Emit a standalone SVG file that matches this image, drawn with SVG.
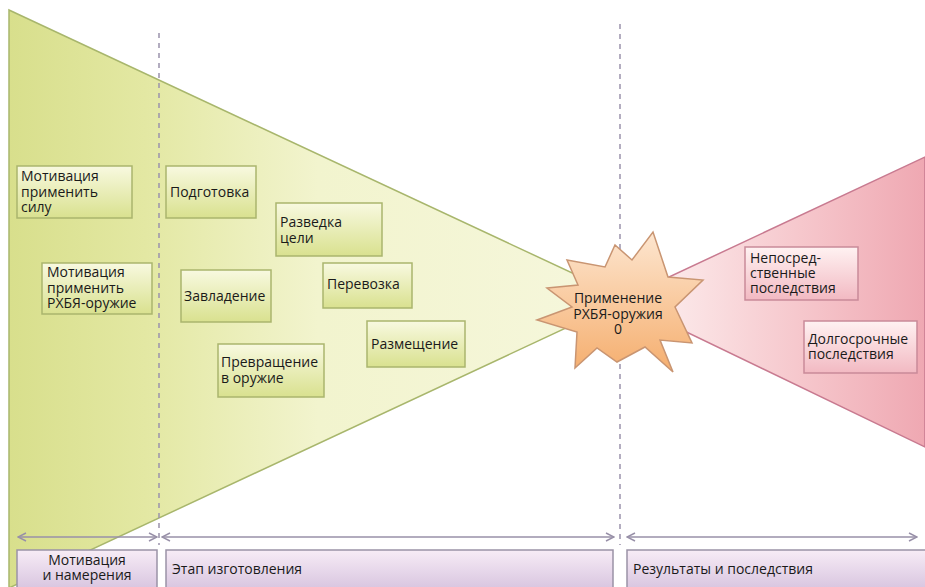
<svg xmlns="http://www.w3.org/2000/svg" width="925" height="587" viewBox="0 0 925 587">
<defs>
<linearGradient id="gTri" x1="9" y1="0" x2="628" y2="0" gradientUnits="userSpaceOnUse">
<stop offset="0" stop-color="#d8df8c"/>
<stop offset="0.22" stop-color="#e3e8a3"/>
<stop offset="0.5" stop-color="#f2f4ce"/>
<stop offset="1" stop-color="#f6f7dd"/>
</linearGradient>
<linearGradient id="pTri" x1="640" y1="0" x2="925" y2="0" gradientUnits="userSpaceOnUse">
<stop offset="0" stop-color="#fdf0f0"/>
<stop offset="0.55" stop-color="#f6c8cd"/>
<stop offset="1" stop-color="#efa8b2"/>
</linearGradient>
<linearGradient id="gBox" x1="0" y1="0" x2="0" y2="1">
<stop offset="0" stop-color="#f8f9e0"/>
<stop offset="1" stop-color="#d9e18f"/>
</linearGradient>
<linearGradient id="pBox" x1="0" y1="0" x2="0" y2="1">
<stop offset="0" stop-color="#fff2f2"/>
<stop offset="1" stop-color="#f2b9c2"/>
</linearGradient>
<linearGradient id="vBox" x1="0" y1="0" x2="0" y2="1">
<stop offset="0" stop-color="#f7ecf6"/>
<stop offset="1" stop-color="#d6c2de"/>
</linearGradient>
<linearGradient id="star" x1="0" y1="0" x2="0" y2="1">
<stop offset="0" stop-color="#fde6d0"/>
<stop offset="1" stop-color="#f5ae6e"/>
</linearGradient>
<marker id="ah" viewBox="0 0 10 10" refX="9" refY="5" markerWidth="10" markerHeight="10" markerUnits="userSpaceOnUse" orient="auto-start-reverse">
<path d="M1,1 L9,5 L1,9" fill="none" stroke="#9890a8" stroke-width="1.5"/>
</marker>
</defs>
<style>
text{font-family:"Open Sans","Noto Sans","Liberation Sans",sans-serif;font-size:14px;fill:#1a1a1a}
.gb{fill:url(#gBox);stroke:#aab56e;stroke-width:1.5}
.pb{fill:url(#pBox);stroke:#c98a99;stroke-width:1.5}
.vb{fill:url(#vBox);stroke:#9a92a6;stroke-width:1.5}
.dash{stroke:#9a92ac;stroke-width:1.5;stroke-dasharray:5 5;fill:none}
.arr{stroke:#9890a8;stroke-width:1.5;fill:none;marker-start:url(#ah);marker-end:url(#ah)}
</style>
<rect width="925" height="587" fill="#ffffff"/>
<g id="background">
<polygon points="9,10 628,299 9,588" fill="url(#gTri)" stroke="#a8b66c" stroke-width="1.5"/>
<polygon points="620,300 925,157 925,447" fill="url(#pTri)" stroke="#c87a90" stroke-width="1.5"/>
</g>
<g id="dividers">
<line class="dash" x1="159" y1="33" x2="159" y2="545"/>
<line class="dash" x1="620" y1="24" x2="620" y2="545"/>
</g>
<g id="connectors">
<line class="arr" x1="18" y1="537" x2="157" y2="537"/>
<line class="arr" x1="162" y1="537" x2="614" y2="537"/>
<line class="arr" x1="627" y1="537" x2="917" y2="537"/>
</g>
<g id="n-motiv-force">
<rect class="gb" x="17" y="166" width="115" height="52"/>
<text x="21" y="181"><tspan x="21">Мотивация</tspan><tspan x="21" dy="15.5">применить</tspan><tspan x="21" dy="15.5">силу</tspan></text>
</g>
<g id="n-motiv-cbrn">
<rect class="gb" x="42" y="263" width="110" height="51"/>
<text x="47" y="277"><tspan x="47">Мотивация</tspan><tspan x="47" dy="15.5">применить</tspan><tspan x="47" dy="15.5">РХБЯ-оружие</tspan></text>
</g>
<g id="n-prep">
<rect class="gb" x="166" y="166" width="90" height="52"/>
<text x="170" y="197">Подготовка</text>
</g>
<g id="n-recon">
<rect class="gb" x="276" y="203" width="106" height="53"/>
<text x="280" y="227"><tspan x="280">Разведка</tspan><tspan x="280" dy="15.5">цели</tspan></text>
</g>
<g id="n-acquire">
<rect class="gb" x="181" y="270" width="90" height="52"/>
<text x="184" y="301">Завладение</text>
</g>
<g id="n-transport">
<rect class="gb" x="323" y="263" width="89" height="45"/>
<text x="327" y="289">Перевозка</text>
</g>
<g id="n-deploy">
<rect class="gb" x="367" y="321" width="98" height="46"/>
<text x="371" y="349">Размещение</text>
</g>
<g id="n-weaponize">
<rect class="gb" x="218" y="344" width="106" height="53"/>
<text x="221" y="367"><tspan x="221">Превращение</tspan><tspan x="221" dy="15.5">в оружие</tspan></text>
</g>
<g id="n-use">
<polygon points="547,288 578,285 567,260 605,267 615,245 632,260 653,232 668,277 703,280 675,307 692,343 660,340 673,372 645,347 617,362 597,348 575,368 577,332 537,320 572,307" fill="url(#star)" stroke="#c99572" stroke-width="1.5" stroke-linejoin="miter"/>
<text x="618" y="303" text-anchor="middle"><tspan x="618">Применение</tspan><tspan x="618" dy="15.5">РХБЯ-оружия</tspan><tspan x="618" dy="15.5">0</tspan></text>
</g>
<g id="n-immediate">
<rect class="pb" x="745" y="247" width="113" height="53"/>
<text x="750" y="263"><tspan x="750">Непосред-</tspan><tspan x="750" dy="15">ственные</tspan><tspan x="750" dy="15">последствия</tspan></text>
</g>
<g id="n-longterm">
<rect class="pb" x="804" y="321" width="113" height="52"/>
<text x="808" y="344"><tspan x="808">Долгосрочные</tspan><tspan x="808" dy="15">последствия</tspan></text>
</g>
<g id="phase-motivation">
<rect class="vb" x="17" y="550" width="140" height="42"/>
<text x="87" y="565" text-anchor="middle"><tspan x="87">Мотивация</tspan><tspan x="87" dy="15">и намерения</tspan></text>
</g>
<g id="phase-production">
<rect class="vb" x="166" y="550" width="447" height="42"/>
<text x="172" y="574">Этап изготовления</text>
</g>
<g id="phase-results">
<rect class="vb" x="627" y="550" width="300" height="42"/>
<text x="633" y="574">Результаты и последствия</text>
</g>
</svg>
